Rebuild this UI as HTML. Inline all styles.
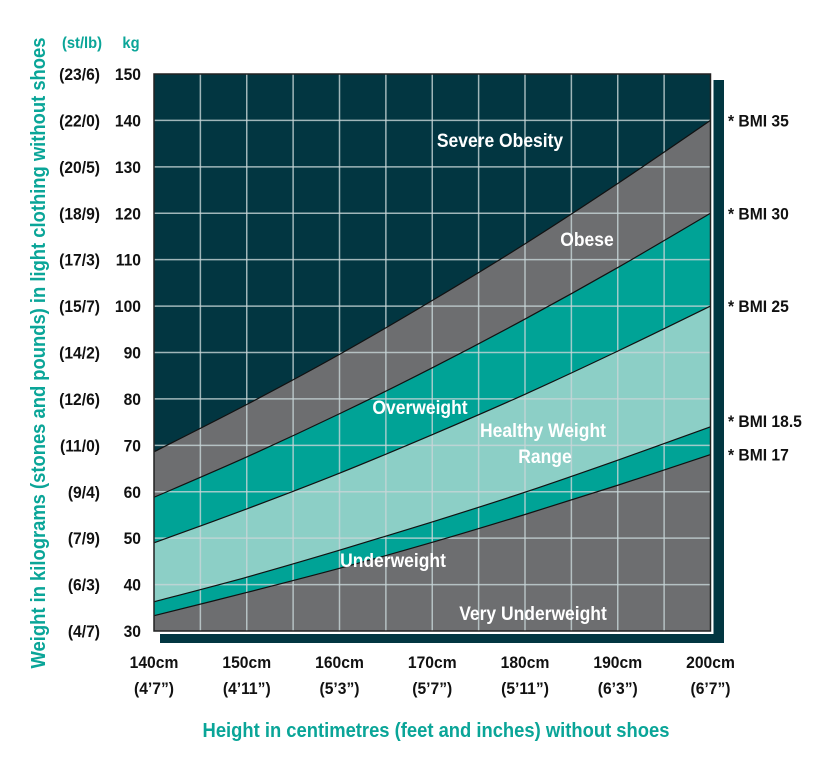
<!DOCTYPE html>
<html><head><meta charset="utf-8"><style>
body{margin:0;background:#fff;width:815px;height:754px;overflow:hidden}
svg text{font-family:"Liberation Sans Narrow","Liberation Sans",sans-serif;font-weight:bold}
</style></head><body>
<svg id="c" width="815" height="754" xmlns="http://www.w3.org/2000/svg"></svg>
<script>
const heights=[140,150,160,170,180,190,200];
const heightFt=["(4’7”)","(4’11”)","(5’3”)","(5’7”)","(5’11”)","(6’3”)","(6’7”)"];
const bmi35=[68.6,78.8,89.6,101.2,113.4,126.4,140];
const bmi30=[58.8,67.5,76.8,86.7,97.2,108.3,120];
const bmi25=[49,56.3,64,72.3,81,90.3,100];
const bmi185=[36.3,41.6,47.4,53.5,59.9,66.8,74];
const bmi17=[33.3,38.3,43.5,49.1,55.1,61.4,68];
const kgTicks=[30,40,50,60,70,80,90,100,110,120,130,140,150];
const stTicks=["(4/7)","(6/3)","(7/9)","(9/4)","(11/0)","(12/6)","(14/2)","(15/7)","(17/3)","(18/9)","(20/5)","(22/0)","(23/6)"];
const NS="http://www.w3.org/2000/svg";
const svg=document.getElementById('c');
const X0=154,X1=710.5,Y0=631,Y1=74;
const x=h=>X0+(h-140)/60*(X1-X0);
const y=w=>Y0-(w-30)/120*(Y0-Y1);
function el(t,a,p){const e=document.createElementNS(NS,t);for(const k in a)e.setAttribute(k,a[k]);(p||svg).appendChild(e);return e;}
function curve(vals){let pts=heights.map((h,i)=>[x(h),y(vals[i])]);let d="M"+pts[0][0]+","+pts[0][1];
for(let i=0;i<pts.length-1;i++){const p0=pts[Math.max(0,i-1)],p1=pts[i],p2=pts[i+1],p3=pts[Math.min(pts.length-1,i+2)];
d+=` C${p1[0]+(p2[0]-p0[0])/6},${p1[1]+(p2[1]-p0[1])/6} ${p2[0]-(p3[0]-p1[0])/6},${p2[1]-(p3[1]-p1[1])/6} ${p2[0]},${p2[1]}`;}return d;}
let s=el('rect',{x:160,y:80,width:564,height:563,fill:'#023641'});

let w=el('rect',{x:X0-1,y:Y1-1,width:X1-X0+4,height:Y0-Y1+4,fill:'#fff'});

let bg=el('rect',{x:X0,y:Y1,width:X1-X0,height:Y0-Y1,fill:'#023641'});

const bands=[[bmi35,'#6d6e70','obese-band'],[bmi30,'#00a396','overweight-band'],[bmi25,'#8ccfc6','healthy-band'],[bmi185,'#00a396','underweight-band'],[bmi17,'#6d6e70','very-underweight-band']];
bands.forEach(b=>{const p=el('path',{d:curve(b[0])+` L${X1},${Y0} L${X0},${Y0} Z`,fill:b[1]});
});
for(let h=145;h<200;h+=5){const l=el('line',{x1:x(h),x2:x(h),y1:Y1,y2:Y0,stroke:'#c8d6d8','stroke-width':1.5,opacity:0.8});
}
for(let k=40;k<150;k+=10){const l=el('line',{x1:X0,x2:X1,y1:y(k),y2:y(k),stroke:'#c8d6d8','stroke-width':1.5,opacity:0.8});
}
[bmi35,bmi30,bmi25,bmi185,bmi17].forEach(v=>{const p=el('path',{d:curve(v),fill:'none',stroke:'#111','stroke-width':1.2});
});
let fr=el('rect',{x:X0,y:Y1,width:X1-X0,height:Y0-Y1,fill:'none',stroke:'#222','stroke-width':1.5});

function txt(s,a,name,rot){const tx=a.x,ty=a.y;delete a.x;delete a.y;
a.transform=`translate(${tx},${ty})`+(rot?' rotate(-90)':'')+' scale(0.92,1)';
const t=el('text',a);t.textContent=s;return t;}
kgTicks.forEach((k,i)=>{txt(String(k),{x:141,y:y(k)+6,'font-size':17,'text-anchor':'end',fill:'#111'},'y-tick-kg');
txt(stTicks[i],{x:100,y:y(k)+6,'font-size':17,'text-anchor':'end',fill:'#111'},'y-tick-st');});
txt('(st/lb)',{x:82,y:48,'font-size':16,'text-anchor':'middle',fill:'#0aa598'},'st-unit-header');
txt('kg',{x:131,y:48,'font-size':16,'text-anchor':'middle',fill:'#0aa598'},'kg-unit-header');
heights.forEach((h,i)=>{txt(h+'cm',{x:x(h),y:668,'font-size':17,'text-anchor':'middle',fill:'#111'},'x-tick-cm');
txt(heightFt[i],{x:x(h),y:694,'font-size':17,'text-anchor':'middle',fill:'#111'},'x-tick-ft');});
txt('Height in centimetres (feet and inches) without shoes',{x:436,y:737,'font-size':20,'text-anchor':'middle',fill:'#0aa598'},'x-axis-title');
txt('Weight in kilograms (stones and pounds) in light clothing without shoes',{x:45,y:353,'font-size':20,'text-anchor':'middle',fill:'#0aa598'},'y-axis-title',true);
const rl=[['* BMI 35',bmi35],['* BMI 30',bmi30],['* BMI 25',bmi25],['* BMI 18.5',bmi185],['* BMI 17',bmi17]];
const off=[6,6,6,0,6];
rl.forEach((r,i)=>txt(r[0],{x:728,y:y(r[1][6])+off[i],'font-size':17,fill:'#111'},'bmi-label'));
const bl=[['Severe Obesity',500,147],['Obese',587,246],['Overweight',420,414],['Healthy Weight',543,437],['Range',545,463],['Underweight',393,567],['Very Underweight',533,620]];
bl.forEach(b=>txt(b[0],{x:b[1],y:b[2],'font-size':19,'text-anchor':'middle',fill:'#fff'},'band-label'));
</script>
</body></html>
